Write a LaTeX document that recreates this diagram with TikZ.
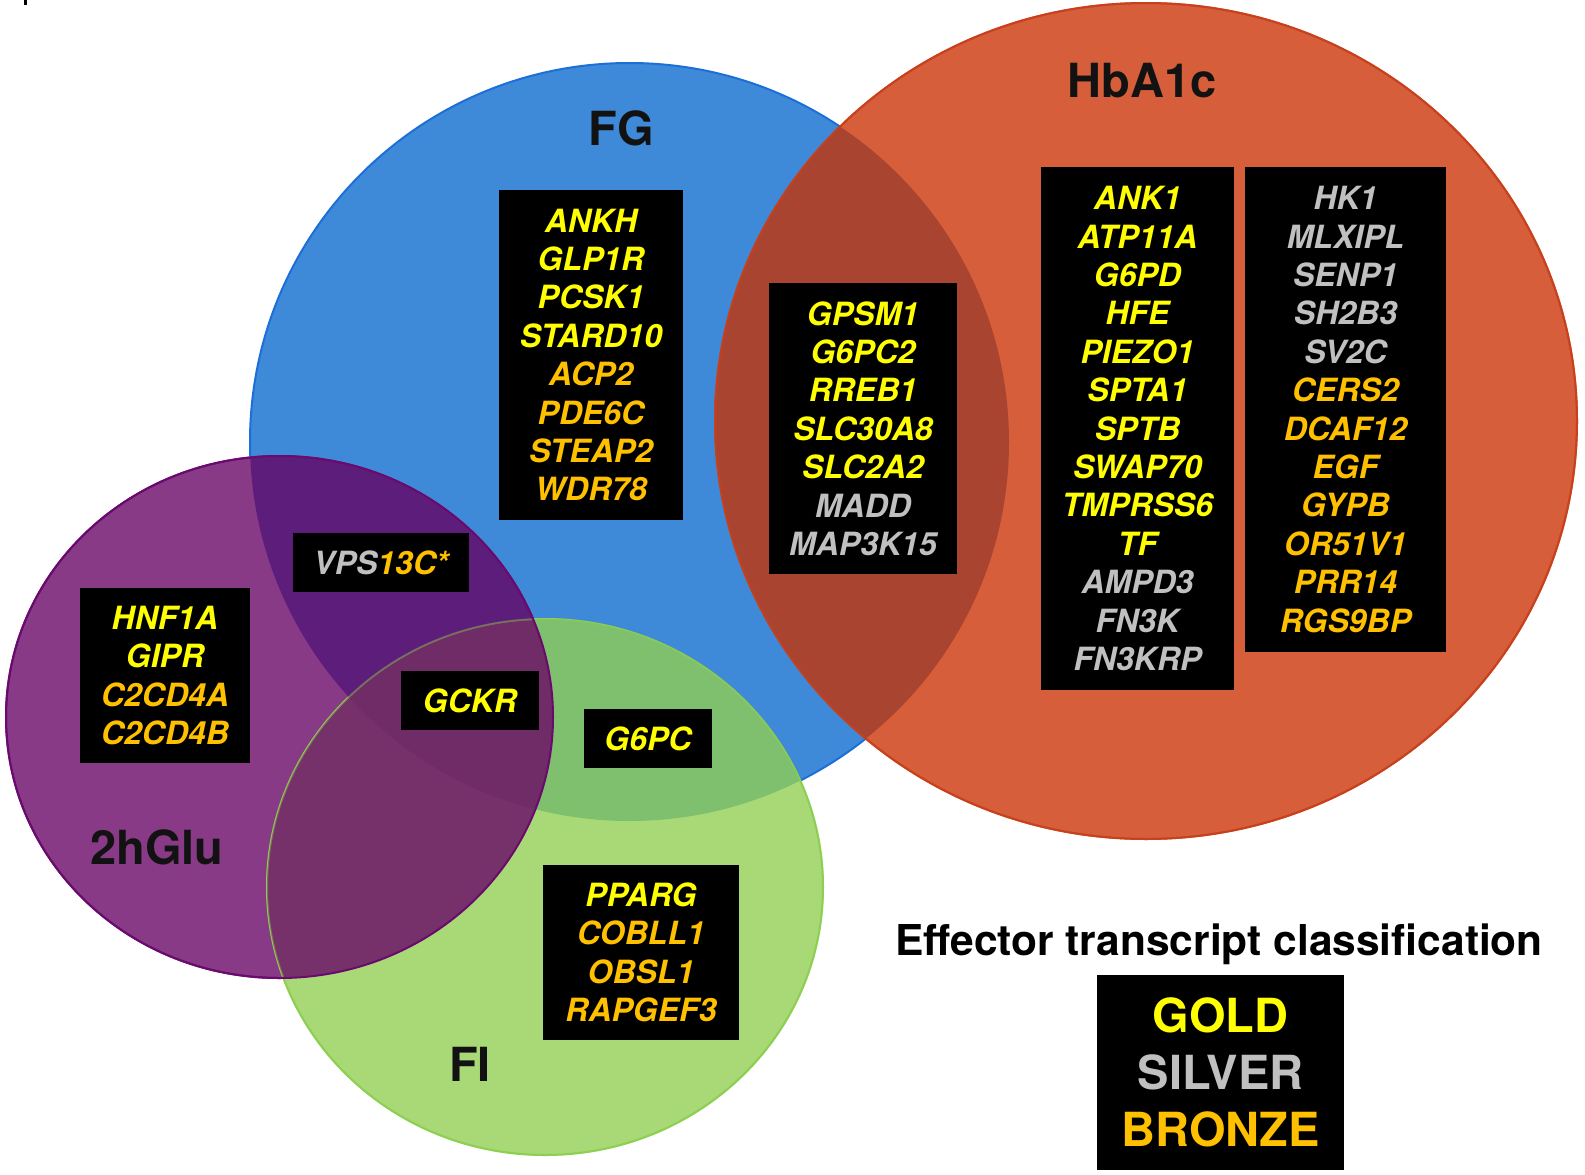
\documentclass[tikz,border=0pt]{standalone}
\usepackage{fontspec}
\setmainfont{TeX Gyre Heros}

\definecolor{fgblue}{HTML}{3E8AD8}
\definecolor{fgline}{HTML}{1D6FD8}
\definecolor{hbred}{HTML}{D65E3A}
\definecolor{hbline}{HTML}{C8401C}
\definecolor{glupurple}{HTML}{893A87}
\definecolor{gluline}{HTML}{6A0A6E}
\definecolor{figreen}{HTML}{A9D977}
\definecolor{filine}{HTML}{8DCF50}
\definecolor{fghb}{HTML}{A8442F}
\definecolor{fgglu}{HTML}{5C1D7B}
\definecolor{fgfi}{HTML}{7FC06E}
\definecolor{glufi}{HTML}{76316A}
\definecolor{allthree}{HTML}{6F2C66}
\definecolor{gold}{HTML}{FFFF00}
\definecolor{silver}{HTML}{C0C0C0}
\definecolor{bronze}{HTML}{FFC000}

%% the four traits
\def\fgset{(629.5,442) ellipse [x radius=379.5, y radius=379]}
\def\hbset{(1146,421) ellipse [x radius=431, y radius=418]}
\def\gluset{(279.5,717) ellipse [x radius=273.5, y radius=261]}
\def\fiset{(545,887) ellipse [x radius=278, y radius=268]}

\tikzset{
  genebox/.style={fill=black, inner sep=0pt, align=center,
    font=\fontsize{32}{38.4}\selectfont\bfseries\itshape},
  trait/.style={font=\fontsize{47}{56}\selectfont\bfseries, text=black!93},
  rim/.style={line width=2pt}
}
\newcommand{\gd}[1]{\textcolor{gold}{#1}}
\newcommand{\sv}[1]{\textcolor{silver}{#1}}
\newcommand{\bz}[1]{\textcolor{bronze}{#1}}

\begin{document}
\begin{tikzpicture}[x=1pt,y=-1pt]
  \useasboundingbox (0,0) rectangle (1585,1175);
  \fill (24,0) rectangle (27,5);

  %% discs
  \filldraw[fgblue, draw=fgline, rim] \fgset;
  \filldraw[hbred, draw=hbline, rim] \hbset;
  \filldraw[glupurple, draw=gluline, rim] \gluset;
  \filldraw[figreen, draw=filine, rim] \fiset;
  %% overlaps
  \begin{scope} \clip \fgset; \fill[fghb] \hbset; \end{scope}
  \begin{scope} \clip \fgset; \fill[fgglu] \gluset; \end{scope}
  \begin{scope} \clip \fgset; \fill[fgfi] \fiset; \end{scope}
  \begin{scope} \clip \gluset; \fill[glufi] \fiset; \end{scope}
  \begin{scope} \clip \fgset; \clip \gluset; \fill[allthree] \fiset; \end{scope}
  %% rims lying on top
  \draw[rim, filine, opacity=.4] \fiset;
  \draw[rim, hbline, opacity=.8] \hbset;
  \draw[rim, gluline] \gluset;

  \node[trait] (fg) at (621,128) {FG};
  \node[trait] (hb) at (1142,81) {HbA1c};
  \node[trait] (glu) at (157,847) {2hGlu};
  \node[trait] (fi) at (470,1064) {FI};

  \node[genebox, minimum width=184, minimum height=330] (fgonly) at (591,355)
    {\gd{ANKH}\\\gd{GLP1R}\\\gd{PCSK1}\\\gd{STARD10}\\\bz{ACP2}\\\bz{PDE6C}\\\bz{STEAP2}\\\bz{WDR78}};
  \node[genebox, minimum width=188, minimum height=291] (fghbbox) at (863,428.5)
    {\gd{GPSM1}\\\gd{G6PC2}\\\gd{RREB1}\\\gd{SLC30A8}\\\gd{SLC2A2}\\\sv{MADD}\\\sv{MAP3K15}};
  \node[genebox, minimum width=193, minimum height=523] (hbleft) at (1137.5,428.5)
    {\gd{ANK1}\\\gd{ATP11A}\\\gd{G6PD}\\\gd{HFE}\\\gd{PIEZO1}\\\gd{SPTA1}\\\gd{SPTB}\\
     \gd{SWAP70}\\\gd{TMPRSS6}\\\gd{TF}\\\sv{AMPD3}\\\sv{FN3K}\\\sv{FN3KRP}};
  \node[genebox, minimum width=201, minimum height=485] (hbright) at (1345.5,409.5)
    {\sv{HK1}\\\sv{MLXIPL}\\\sv{SENP1}\\\sv{SH2B3}\\\sv{SV2C}\\\bz{CERS2}\\\bz{DCAF12}\\
     \bz{EGF}\\\bz{GYPB}\\\bz{OR51V1}\\\bz{PRR14}\\\bz{RGS9BP}};
  \node[genebox, minimum width=176, minimum height=59] (vps) at (381,562.5)
    {\sv{VPS}\bz{13C*}};
  \node[genebox, minimum width=170, minimum height=175] (gluonly) at (165,675.5)
    {\gd{HNF1A}\\\gd{GIPR}\\\bz{C2CD4A}\\\bz{C2CD4B}};
  \node[genebox, minimum width=138, minimum height=59] (gckr) at (470,700.5)
    {\gd{GCKR}};
  \node[genebox, minimum width=128, minimum height=59] (g6pc) at (648,738.5)
    {\gd{G6PC}};
  \node[genebox, minimum width=196, minimum height=175] (fionly) at (641,952.5)
    {\gd{PPARG}\\\bz{COBLL1}\\\bz{OBSL1}\\\bz{RAPGEF3}};

  %% legend
  \node[font=\fontsize{42.5}{50}\selectfont\bfseries, anchor=base] (legtitle) at (1219,955)
    {Effector transcript classification};
  \node[fill=black, inner sep=0pt, align=center, minimum width=247, minimum height=195,
    font=\fontsize{47}{57}\selectfont\bfseries] (legend) at (1220.5,1072.5)
    {\gd{GOLD}\\\sv{SILVER}\\\bz{BRONZE}};
\end{tikzpicture}
\end{document}
